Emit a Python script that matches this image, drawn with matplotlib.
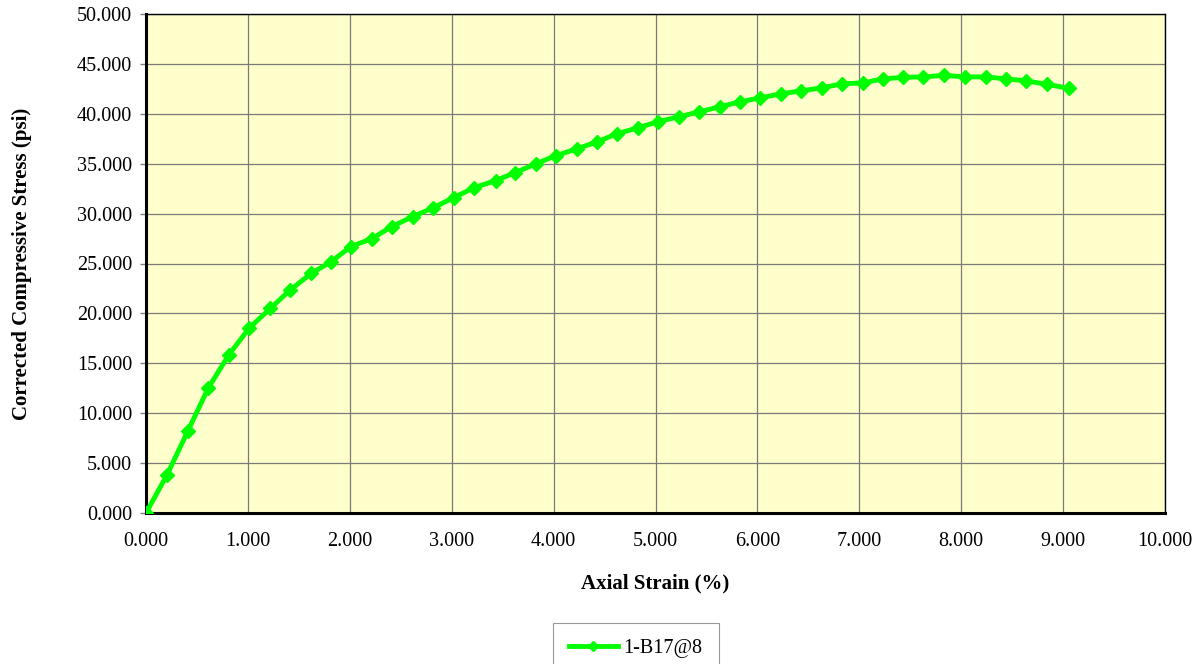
import numpy as np
import matplotlib
matplotlib.use("Agg")
import matplotlib.pyplot as plt

plt.rcParams.update({"font.family": ["Liberation Serif", "DejaVu Serif"]})

# axial strain (%) and corrected compressive stress (psi)
strain = [0.000, 0.206, 0.410, 0.610, 0.810, 1.010, 1.220, 1.410, 1.620, 1.820,
          2.010, 2.220, 2.410, 2.620, 2.820, 3.020, 3.220, 3.430, 3.620, 3.830,
          4.020, 4.230, 4.430, 4.620, 4.830, 5.020, 5.230, 5.430, 5.630, 5.830,
          6.030, 6.230, 6.430, 6.630, 6.830, 7.040, 7.230, 7.430, 7.630, 7.830,
          8.040, 8.240, 8.440, 8.640, 8.840, 9.060]
stress = [0.000, 3.81, 8.20, 12.50, 15.80, 18.50, 20.50, 22.30, 24.00, 25.20,
          26.70, 27.50, 28.70, 29.70, 30.60, 31.60, 32.60, 33.30, 34.10, 35.00,
          35.80, 36.50, 37.20, 38.00, 38.60, 39.20, 39.70, 40.20, 40.70, 41.20,
          41.60, 42.00, 42.30, 42.60, 43.00, 43.10, 43.50, 43.65, 43.70, 43.85,
          43.70, 43.70, 43.50, 43.30, 42.95, 42.55]

x_ticks = np.arange(0, 10.01, 1.0)
y_ticks = np.arange(0, 50.01, 5.0)

fig = plt.figure(figsize=(12.02, 6.64), dpi=100)
ax = fig.add_axes([146 / 1202, 1 - 513 / 664, (1165 - 146) / 1202, (513 - 14) / 664])
ax.set_facecolor("#FFFFCC")

ax.plot(strain, stress, color="#00FF00", lw=3.5, marker="D", ms=7.5,
        markeredgecolor="#00FF00", label="1-B17@8", zorder=3)

ax.set_xlim(0, 10)
ax.set_ylim(0, 50)
ax.set_xticks(x_ticks)
ax.set_yticks(y_ticks)
ax.set_xticklabels([f"{v:.3f}" for v in x_ticks], fontsize=14.5)
ax.set_yticklabels([f"{v:.3f}" for v in y_ticks], fontsize=14.5)
ax.tick_params(axis="y", direction="out", length=4, width=1, color="#808080", pad=6)
ax.tick_params(axis="x", direction="out", length=0, pad=14)
ax.grid(True, color="#7a7a7a", lw=0.9)
ax.set_axisbelow(True)

for side in ["top", "right"]:
    ax.spines[side].set_linewidth(1.0)
for side in ["left", "bottom"]:
    ax.spines[side].set_linewidth(2.2)

ax.set_xlabel("Axial Strain (%)", fontsize=15, fontweight="bold", labelpad=16)
ax.set_ylabel("Corrected Compressive Stress (psi)", fontsize=15,
              fontweight="bold", labelpad=32)

leg = fig.legend(loc="upper center", bbox_to_anchor=(636 / 1202, 1 - 623 / 664),
                 frameon=True, fancybox=False, edgecolor="#808080",
                 fontsize=14.5, handlelength=2.4, handletextpad=0.3,
                 borderpad=0.8, borderaxespad=0, markerscale=0.7)
leg.get_frame().set_linewidth(0.8)

fig.savefig("out.png", dpi=100)
